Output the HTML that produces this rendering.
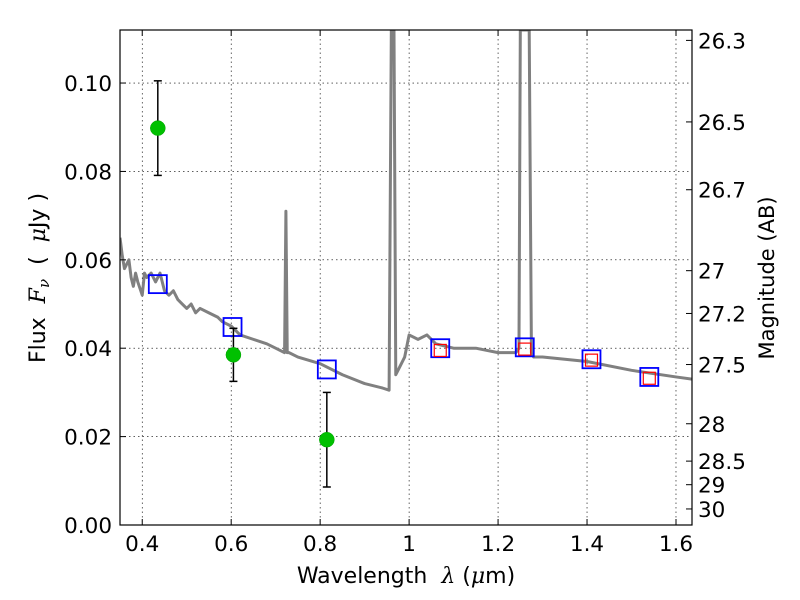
<!DOCTYPE html>
<html><head><meta charset="utf-8">
<style>
body{margin:0;background:#fff;}
svg{display:block;font-family:"DejaVu Sans","Liberation Sans",sans-serif;}
svg text{white-space:pre;}
</style></head>
<body>
<svg id="chart" width="800" height="600">
<rect x="0" y="0" width="800" height="600" fill="#fff"/>
<text x="406" y="583" text-anchor="middle" font-size="22">Wavelength  <tspan font-style="italic" font-family="DejaVu Serif, serif">λ</tspan> (<tspan font-style="italic" font-family="DejaVu Serif, serif">μ</tspan>m)</text>
<text transform="translate(45,278) rotate(-90)" text-anchor="middle" font-size="22">Flux  <tspan font-style="italic" font-family="DejaVu Serif, serif">F</tspan><tspan font-style="italic" font-family="DejaVu Serif, serif" font-size="15" dy="4">ν</tspan><tspan dy="-4">  (  </tspan><tspan font-style="italic" font-family="DejaVu Serif, serif">μ</tspan>Jy )</text>
<text transform="translate(774,278) rotate(-90)" text-anchor="middle" font-size="21">Magnitude (AB)</text>
</svg>
<script>
const specWave=[0.35,0.355,0.36,0.37,0.375,0.38,0.385,0.39,0.4,0.405,0.41,0.42,0.43,0.44,0.45,0.46,0.47,0.48,0.49,0.5,0.51,0.52,0.53,0.55,0.57,0.58,0.6,0.62,0.65,0.68,0.7,0.72,0.723,0.726,0.73,0.75,0.8,0.85,0.9,0.94,0.955,0.96,0.963,0.966,0.97,0.98,0.99,1.0,1.02,1.04,1.06,1.1,1.15,1.2,1.24,1.247,1.25,1.27,1.275,1.28,1.3,1.4,1.5,1.6,1.636];
const specFlux=[0.065,0.061,0.058,0.06,0.056,0.054,0.057,0.055,0.052,0.057,0.056,0.057,0.055,0.057,0.053,0.052,0.053,0.051,0.05,0.049,0.05,0.048,0.049,0.048,0.047,0.046,0.045,0.043,0.042,0.041,0.040,0.039,0.071,0.039,0.039,0.038,0.0365,0.034,0.032,0.031,0.0305,0.112,0.112,0.112,0.034,0.036,0.038,0.043,0.042,0.043,0.041,0.040,0.040,0.039,0.039,0.04,0.112,0.112,0.039,0.038,0.038,0.037,0.035,0.0335,0.033];
const obsWave=[0.435,0.605,0.815];
const obsFlux=[0.0898,0.0385,0.0193];
const obsErr=[0.0107,0.006,0.0107];
const modWave=[0.435,0.603,0.815,1.07,1.26,1.41,1.54];
const modFlux=[0.0545,0.0448,0.0352,0.0400,0.0402,0.0375,0.0335];
const redWave=[1.07,1.26,1.41,1.54];
const redFlux=[0.0395,0.0398,0.0373,0.0332];
const xTicks=[0.4,0.6,0.8,1.0,1.2,1.4,1.6];
const xTickLabels=["0.4","0.6","0.8","1","1.2","1.4","1.6"];
const yTicks=[0,0.02,0.04,0.06,0.08,0.10];
const yTickLabels=["0.00","0.02","0.04","0.06","0.08","0.10"];
const magTicks=[26.3,26.5,26.7,27,27.2,27.5,28,28.5,29,30];
const magLabels=["26.3","26.5","26.7","27","27.2","27.5","28","28.5","29","30"];

const L=120,R=692,T=30,B=525,X0=0.35,X1=1.636,Y0=0,Y1=0.112;
const xs=v=>L+(v-X0)/(X1-X0)*(R-L);
const ys=v=>B-(v-Y0)/(Y1-Y0)*(B-T);
const NS="http://www.w3.org/2000/svg";
const svg=document.getElementById('chart');
function mk(tag,attrs,parent){const e=document.createElementNS(NS,tag);for(const k in attrs)e.setAttribute(k,attrs[k]);(parent||svg).appendChild(e);return e;}
const defs=mk('defs',{});
const cp=mk('clipPath',{id:'clip'},defs);mk('rect',{x:L,y:T,width:R-L,height:B-T},cp);

const grid=mk('g',{});


xTicks.forEach(v=>mk('line',{x1:xs(v),x2:xs(v),y1:T,y2:B,stroke:'#000','stroke-width':0.6,'stroke-dasharray':'1.5,3'},grid));
yTicks.forEach(v=>mk('line',{x1:L,x2:R,y1:ys(v),y2:ys(v),stroke:'#000','stroke-width':0.6,'stroke-dasharray':'1.5,3'},grid));

const plot=mk('g',{'clip-path':'url(#clip)'});
const sp=mk('polyline',{points:specWave.map((w,i)=>xs(w)+','+ys(specFlux[i])).join(' '),fill:'none',stroke:'#808080','stroke-width':3,'stroke-linejoin':'round'},plot);



modWave.forEach((w,i)=>{const r=mk('rect',{x:xs(w)-9,y:ys(modFlux[i])-9,width:18,height:18,fill:'none',stroke:'#0000ff','stroke-width':1.8},plot);

});
redWave.forEach((w,i)=>{const r=mk('rect',{x:xs(w)-6,y:ys(redFlux[i])-6,width:12,height:12,fill:'none',stroke:'#ff0000','stroke-width':1.2},plot);

});
obsWave.forEach((w,i)=>{const g=mk('g',{},plot);


const x=xs(w),y1=ys(obsFlux[i]-obsErr[i]),y2=ys(obsFlux[i]+obsErr[i]);
mk('line',{x1:x,x2:x,y1:y1,y2:y2,stroke:'#000','stroke-width':1.5},g);
mk('line',{x1:x-4,x2:x+4,y1:y1,y2:y1,stroke:'#000','stroke-width':1.5},g);
mk('line',{x1:x-4,x2:x+4,y1:y2,y2:y2,stroke:'#000','stroke-width':1.5},g);
mk('circle',{cx:x,cy:ys(obsFlux[i]),r:7.5,fill:'#00c000',stroke:'#00a000','stroke-width':0.5},g);});

mk('rect',{x:L,y:T,width:R-L,height:B-T,fill:'none',stroke:'#000','stroke-width':1.2});
const ax=mk('g',{});
xTicks.forEach((v,i)=>{mk('line',{x1:xs(v),x2:xs(v),y1:B,y2:B-6,stroke:'#000'},ax);mk('line',{x1:xs(v),x2:xs(v),y1:T,y2:T+6,stroke:'#000'},ax);
const t=mk('text',{x:xs(v),y:B+26,'text-anchor':'middle','font-size':21.5},ax);t.textContent=xTickLabels[i];

});
yTicks.forEach((v,i)=>{mk('line',{x1:L,x2:L+6,y1:ys(v),y2:ys(v),stroke:'#000'},ax);
const t=mk('text',{x:L-8,y:ys(v)+8,'text-anchor':'end','font-size':21.5},ax);t.textContent=yTickLabels[i];

});
magTicks.forEach((m,i)=>{const f=Math.pow(10,(23.9-m)/2.5);const y=ys(f);
mk('line',{x1:R,x2:R-6,y1:y,y2:y,stroke:'#000'},ax);
const t=mk('text',{x:R+6,y:y+8,'font-size':21.5},ax);t.textContent=magLabels[i];

});
</script>
</body></html>
